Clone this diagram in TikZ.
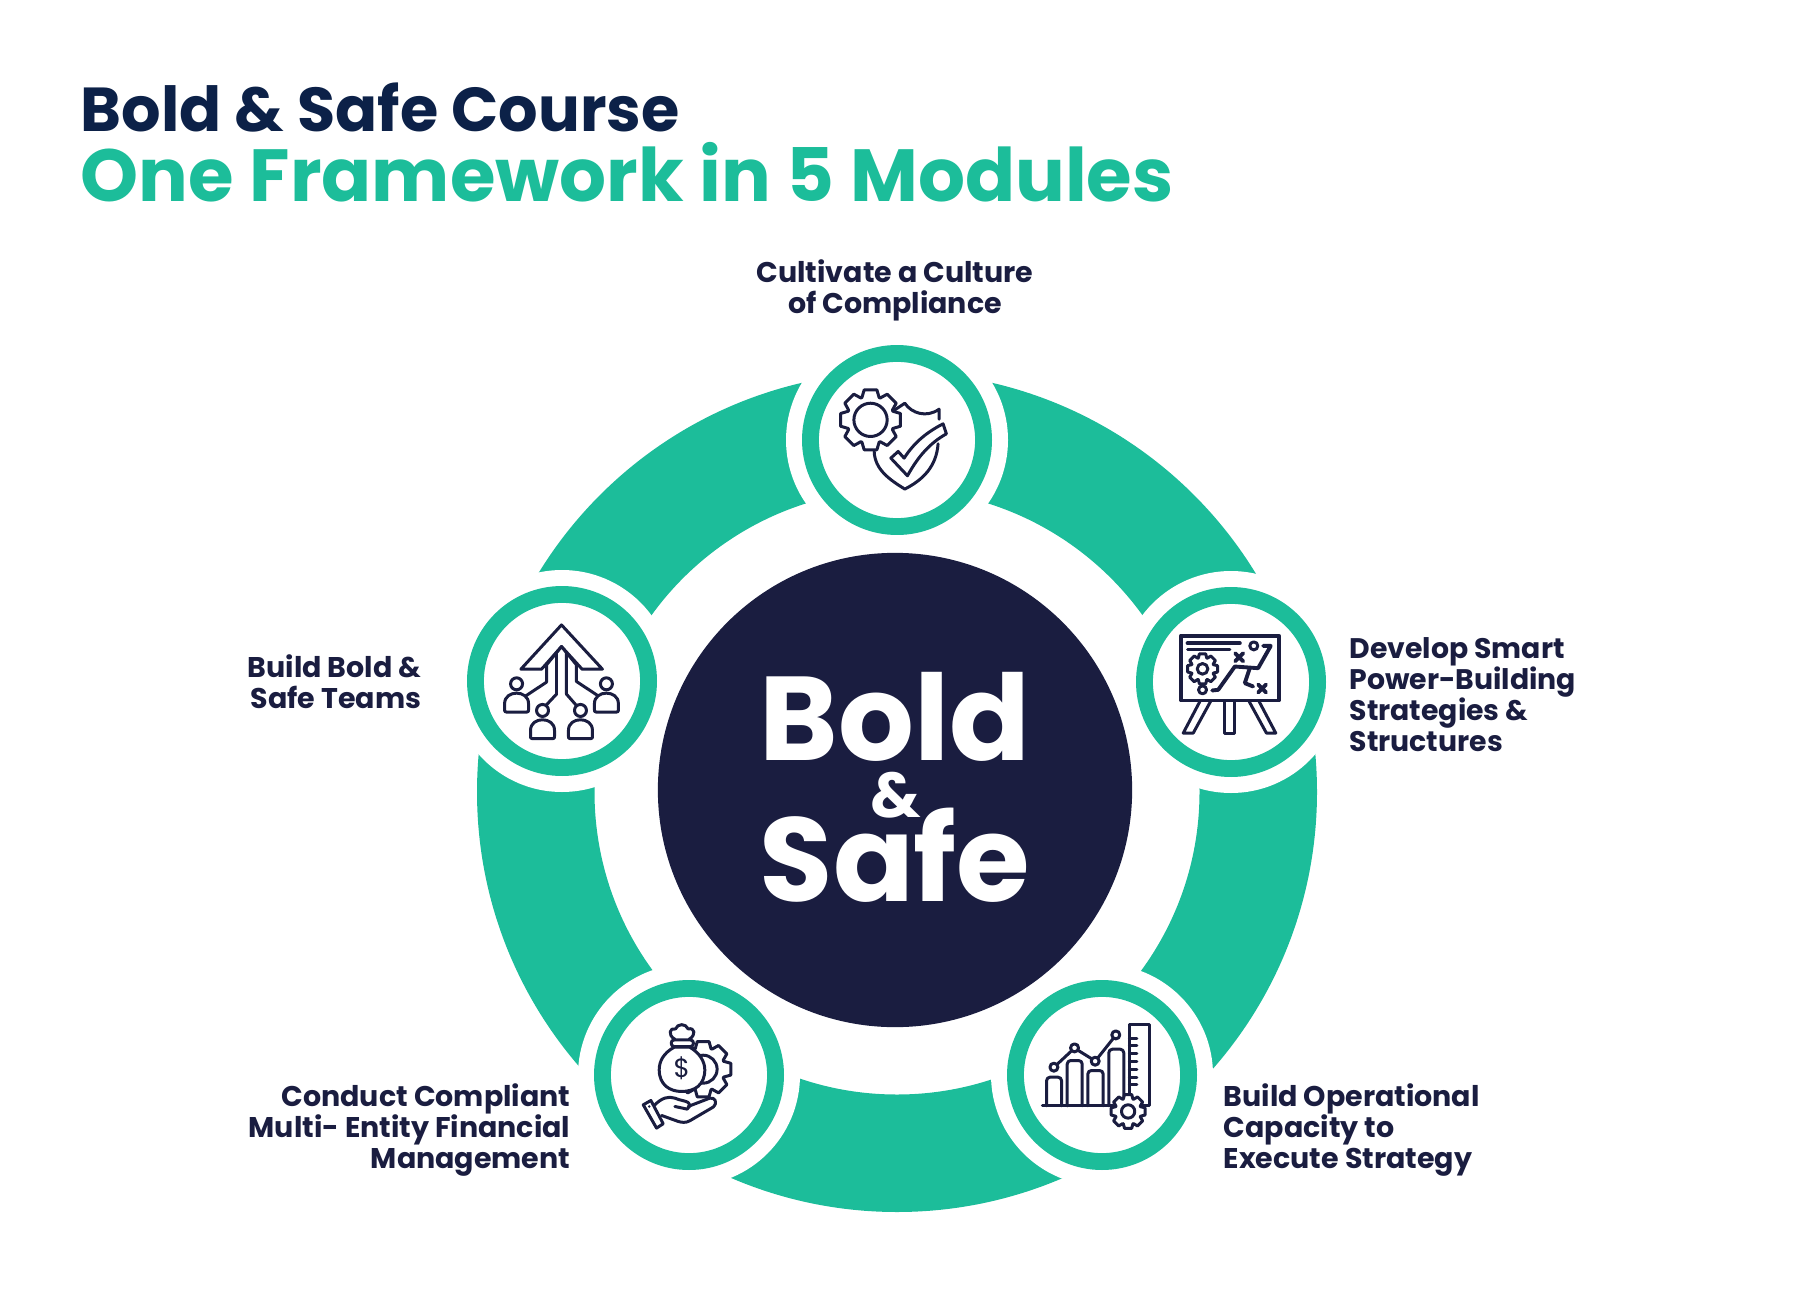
\documentclass[tikz,border=0pt]{standalone}
\usepackage{fontspec}
\setmainfont{Poppins}[BoldFont={Poppins Bold}]
\definecolor{modteal}{HTML}{1CBD9A}
\definecolor{hubnavy}{HTML}{1A1D40}
\definecolor{titlenavy}{HTML}{0C2148}
\tikzset{
    modring/.style={circle,draw=modteal,line width=4.8pt,fill=white,minimum size=1.73cm,inner sep=0pt},
    hubdisc/.style={circle,fill=hubnavy,minimum size=4.74cm,inner sep=0pt},
    modlabel/.style={inner sep=0pt,text=hubnavy,font=\bfseries\fontsize{8.1}{8.75}\selectfont},
    hubword/.style={inner sep=0pt,text=white,font=\bfseries\fontsize{33.9}{34}\selectfont},
    iconline/.style={draw=hubnavy,line width=0.85pt,line join=round,line cap=round},
    iconscope/.style={x=0.00333cm,y=-0.00333cm}
}
\newcommand{\cogwheel}[4]{%
    \begin{scope}[shift={(#1)}]
        \draw[iconline,fill=white] (-12:#2) \foreach \a in {0,45,...,315} {
            -- (\a-12:#2) -- (\a+12:#2) -- (\a+21:#3) -- (\a+24:#3)
        } -- cycle;
        \draw[iconline] (0,0) circle (#4);
    \end{scope}
}
\newcommand{\teammate}[1]{%
    \begin{scope}[shift={(#1)}]
        \draw[iconline] (0,0) circle (18);
        \draw[iconline] (-30,85) .. controls (-36,85) and (-36,82) .. (-36,78) -- (-36,60) .. controls (-36,38) and (-18,28) .. (0,28)
            .. controls (18,28) and (36,38) .. (36,60) -- (36,78) .. controls (36,82) and (36,85) .. (30,85) -- cycle;
    \end{scope}
}
\begin{document}
\begin{tikzpicture}[x=0.01cm,y=-0.01cm]
    \useasboundingbox (0,0) rectangle (1800,1300);
    \node[anchor=base west,inner sep=0pt,text=titlenavy,font=\bfseries\fontsize{17.65}{20}\selectfont] (titleone) at (80,132) {Bold \& Safe Course};
    \node[anchor=base west,inner sep=0pt,text=modteal,font=\bfseries\fontsize{21}{24}\selectfont] (titletwo) at (80,202) {One Framework in 5 Modules};

    \fill[modteal,even odd rule] (897,792) circle (420) (897,792) circle (302.5);
    \foreach \p in {{897,440},{1231,682},{1102,1075},{689,1075},{562,681}}
        \fill[white] (\p) circle (111);

    \node[hubdisc] (hub) at (895,790) {};
    \node[hubword,anchor=base] (boldword) at (895,760) {Bold};
    \node[hubword,anchor=base,font=\bfseries\fontsize{18}{20}\selectfont] (andword) at (896,817) {\&};
    \node[hubword,anchor=base] (safeword) at (895,901) {Safe};

    \node[modring] (culture) at (897,440) {};
    \node[modring] (strategy) at (1231,682) {};
    \node[modring] (capacity) at (1102,1075) {};
    \node[modring] (finance) at (689,1075) {};
    \node[modring] (teams) at (562,681) {};

    \node[modlabel,anchor=base,align=center] (culturetext) at (895,313) {Cultivate a Culture\\of Compliance};
    \node[modlabel,anchor=base west,align=left,font=\bfseries\fontsize{8.05}{8.75}\selectfont] (strategytext) at (1349,751) {Develop Smart\\Power-Building\\Strategies \&\\Structures};
    \node[modlabel,anchor=base west,align=left] (capacitytext) at (1223,1168) {Build Operational\\Capacity to\\Execute Strategy};
    \node[modlabel,anchor=base east,align=right] (financetext) at (571,1168) {Conduct Compliant\\Multi- Entity Financial\\Management};
    \node[modlabel,anchor=base east,align=right] (teamstext) at (422,708) {Build Bold \&\\Safe Teams};

    \begin{scope}[shift={(780,330)},iconscope]
        \draw[iconline] (345,240) -- (375,220) .. controls (395,250) and (440,265) .. (478,238) -- (478,268);
        \draw[iconline] (475,342) .. controls (470,410) and (430,450) .. (375,478) .. controls (330,450) and (285,420) .. (283,365);
        \draw[iconline] (333,385) -- (355,365) -- (373,385) .. controls (405,335) and (445,305) .. (490,282) -- (500,312)
            .. controls (450,340) and (415,380) .. (383,438) -- cycle;
        \cogwheel{272,270}{92}{72}{50}
    \end{scope}

    \begin{scope}[shift={(1120,570)},iconscope]
        \draw[iconline,line width=1.1pt] (183,197) rectangle (477,392);
        \draw[iconline,line width=1.1pt] (203,220) -- (360,220);
        \draw[iconline] (203,240) -- (330,240);
        \cogwheel{248,297}{46}{35}{16}
        \draw[iconline] (402,228) circle (12);
        \draw[iconline] (248,360) circle (12);
        \draw[iconline,line width=1.1pt] (277,362) -- (295,360) -- (345,290) -- (415,295) -- (453,228) -- (430,228);
        \draw[iconline,line width=1.1pt] (390,295) -- (375,340) -- (400,350);
        \draw[iconline,line width=1.1pt] (346,250) -- (370,274) (370,250) -- (346,274);
        \draw[iconline,line width=1.1pt] (415,344) -- (439,368) (439,344) -- (415,368);
        \draw[iconline] (240,395) -- (190,490) -- (220,490) -- (272,395);
        \draw[iconline] (315,395) -- (315,490) -- (345,490) -- (345,395);
        \draw[iconline] (388,395) -- (440,490) -- (468,490) -- (418,395);
    \end{scope}

    \begin{scope}[shift={(990,970)},iconscope]
        \draw[iconline] (157,408) -- (370,408);
        \draw[iconline,rounded corners=1pt] (170,408) -- (170,322) -- (215,322) -- (215,408);
        \draw[iconline,rounded corners=1pt] (232,408) -- (232,272) -- (277,272) -- (277,408);
        \draw[iconline,rounded corners=1pt] (294,408) -- (294,302) -- (340,302) -- (340,408);
        \draw[iconline,rounded corners=1pt] (357,408) -- (357,238) -- (402,238) -- (402,380);
        \draw[iconline] (419,375) -- (419,165) -- (478,165) -- (478,408) -- (450,408);
        \foreach \y in {205,228,252,275,298,322,345}
            \draw[iconline] (419,\y) -- (441,\y);
        \draw[iconline] (201,284) -- (245,243) (264,241) -- (306,267) (324,264) -- (370,206);
        \draw[iconline] (192,292) circle (12) (254,234) circle (12) (316,274) circle (12) (378,195) circle (12);
        \cogwheel{415,425}{52}{40}{20}
    \end{scope}

    \begin{scope}[shift={(580,970)},iconscope]
        \cogwheel{370,298}{85}{66}{42}
        \draw[iconline,fill=white] (283,232) .. controls (250,250) and (238,275) .. (238,300)
            .. controls (238,345) and (270,365) .. (305,365) .. controls (345,365) and (375,345) .. (375,300)
            .. controls (375,275) and (360,250) .. (330,232) -- cycle;
        \draw[iconline,fill=white] (283,210) -- (332,210) .. controls (344,210) and (344,230) .. (332,230) -- (283,230)
            .. controls (271,230) and (271,210) .. (283,210) -- cycle;
        \draw[iconline] (285,208) .. controls (262,195) and (270,172) .. (287,177) .. controls (293,160) and (318,160) .. (325,177)
            .. controls (345,172) and (350,195) .. (328,208);
        \node[inner sep=0pt,text=hubnavy,font=\fontsize{7.5}{8}\selectfont] (dollar) at (306,296) {\$};
        \draw[iconline] (190,405) -- (213,392) -- (250,462) -- (230,475) -- cycle;
        \fill[hubnavy] (208,410) circle (4);
        \draw[iconline] (225,405) .. controls (245,385) and (265,378) .. (285,385) .. controls (300,392) and (315,392) .. (325,398)
            .. controls (332,405) and (330,415) .. (322,418) -- (285,410);
        \draw[iconline] (325,410) -- (390,385) .. controls (405,382) and (415,398) .. (400,412) -- (330,453)
            .. controls (318,460) and (305,458) .. (295,455) -- (245,437);
    \end{scope}

    \begin{scope}[shift={(450,570)},iconscope]
        \draw[iconline] (335,165) -- (458,298) -- (397,298) -- (335,230) -- (275,298) -- (213,298) -- cycle;
        \draw[iconline] (335,230) -- (290,285) -- (290,337) -- (228,378);
        \draw[iconline] (335,230) -- (380,285) -- (380,335) -- (445,378);
        \draw[iconline] (320,250) -- (320,373) -- (290,405);
        \draw[iconline] (350,250) -- (350,373) -- (378,405);
        \teammate{200,342}
        \teammate{470,342}
        \teammate{278,422}
        \teammate{392,422}
    \end{scope}
\end{tikzpicture}
\end{document}
